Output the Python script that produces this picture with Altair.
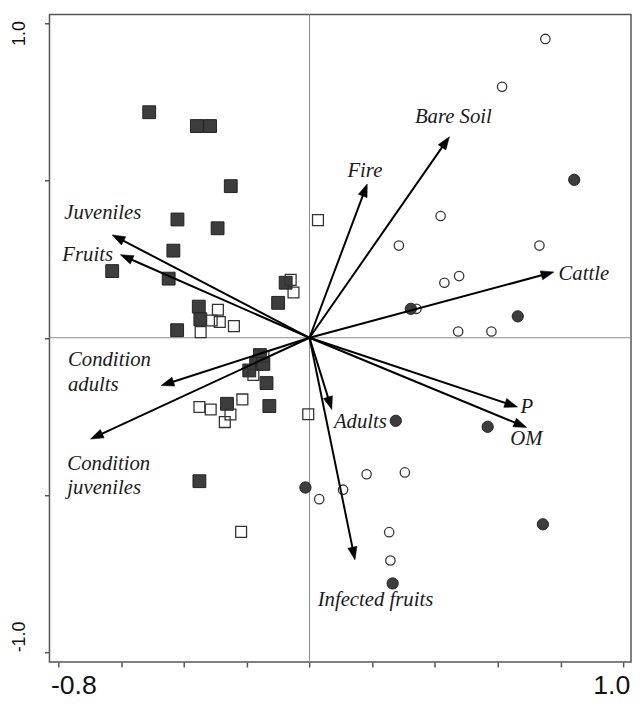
import math
import altair as alt
import pandas as pd

# ---- site scores (four groups) ----
fsq_x = [-0.511, -0.359, -0.317, -0.251, -0.421, -0.293, -0.434, -0.629, -0.449, -0.076, -0.100,
         -0.353, -0.348, -0.422, -0.158, -0.170, -0.147, -0.192, -0.137, -0.263, -0.128, -0.351]
fsq_y = [0.717, 0.673, 0.673, 0.482, 0.376, 0.348, 0.277, 0.212, 0.188, 0.175, 0.111,
         0.099, 0.059, 0.024, -0.055, -0.083, -0.083, -0.104, -0.144, -0.210, -0.217, -0.456]

osq_x = [0.027, -0.060, -0.051, -0.292, -0.312, -0.286, -0.241, -0.347, -0.147, -0.179, -0.214,
         -0.351, -0.315, -0.252, -0.270, -0.004, -0.218]
osq_y = [0.374, 0.184, 0.144, 0.089, 0.055, 0.050, 0.037, 0.018, -0.060, -0.118, -0.196,
         -0.220, -0.228, -0.244, -0.268, -0.243, -0.617]

fci_x = [0.844, 0.323, 0.664, 0.275, 0.568, 0.744, 0.265, -0.013]
fci_y = [0.502, 0.092, 0.068, -0.264, -0.283, -0.593, -0.781, -0.476]

oci_x = [0.752, 0.614, 0.418, 0.285, 0.733, 0.477, 0.430, 0.341, 0.474, 0.580, 0.031, 0.107,
         0.182, 0.304, 0.254, 0.258]
oci_y = [0.950, 0.798, 0.387, 0.293, 0.293, 0.196, 0.175, 0.092, 0.020, 0.020, -0.513, -0.483,
         -0.434, -0.428, -0.618, -0.708]

# ---- variable arrows ----
var_names = ["Juveniles", "Fruits", "Fire", "Bare Soil", "Cattle", "P", "OM", "Adults",
             "Infected fruits", "Condition\nadults", "Condition\njuveniles"]
var_x = [-0.629, -0.603, 0.184, 0.446, 0.779, 0.663, 0.692, 0.071, 0.145, -0.473, -0.698]
var_y = [0.327, 0.264, 0.489, 0.639, 0.209, -0.220, -0.285, -0.228, -0.706, -0.152, -0.322]
lab_x = [-0.782, -0.788, 0.121, 0.336, 0.794, 0.673, 0.640, 0.078, 0.026, -0.770, -0.772]
lab_y = [0.396, 0.262, 0.529, 0.700, 0.203, -0.220, -0.322, -0.267, -0.834, -0.071, -0.400]

x_ticks = [-0.8, -0.6, -0.4, -0.2, 0.0, 0.2, 0.4, 0.6, 0.8, 1.0]
y_ticks = [-1.0, -0.5, 0.0, 0.5, 1.0]

XDOM = [-0.829, 1.025]
YDOM = [-1.031, 1.028]
W, H = 589, 656
SX = W / (XDOM[1] - XDOM[0])
SY = H / (YDOM[1] - YDOM[0])

HEAD_LEN = 13.0
LINE_BACK = 7.0

rows = []
for n, x, y, lx, ly in zip(var_names, var_x, var_y, lab_x, lab_y):
    px, py = x * SX, y * SY
    L = math.hypot(px, py)
    ux, uy = px / L, py / L
    ang = math.degrees(math.atan2(px, py)) % 360
    rows.append(dict(name=n, x0=0.0, y0=0.0, x=x, y=y,
                     xe=(px - ux * LINE_BACK) / SX, ye=(py - uy * LINE_BACK) / SY,
                     ang=ang, lx=lx, ly=ly))
arrows = pd.DataFrame(rows)

xscale = alt.Scale(domain=XDOM, nice=False, zero=False)
yscale = alt.Scale(domain=YDOM, nice=False, zero=False)

xaxis = alt.Axis(
    title=None, values=x_ticks, grid=False, domain=False,
    labelExpr="datum.value < -0.7 ? '-0.8' : (datum.value > 0.9 ? '1.0' : '')",
    labelFont="Liberation Sans", labelFontSize=27, labelColor="#111",
    labelPadding=6, tickSize=5, tickColor="#555", tickWidth=1.5,
    labelOffset={"condition": {"test": "datum.value < 0", "value": 15}, "value": -12},
    labelFlush=False, labelOverlap=False,
)
yaxis = alt.Axis(
    title=None, values=y_ticks, grid=False, domain=False,
    labelExpr="datum.value < -0.9 ? '-1.0' : (datum.value > 0.9 ? '1.0' : '')",
    labelAngle=270, labelAlign="center", labelBaseline="alphabetic",
    labelFont="Liberation Sans", labelFontSize=18, labelColor="#111",
    labelPadding=20, tickSize=5, tickColor="#555", tickWidth=1.5,
    labelOffset={"condition": {"test": "datum.value > 0", "value": 10}, "value": -16},
    labelFlush=False, labelOverlap=False,
)


def X(f):
    return alt.X(f, type="quantitative", scale=xscale, axis=xaxis)


def Y(f):
    return alt.Y(f, type="quantitative", scale=yscale, axis=yaxis)


zero = pd.DataFrame({"z": [0.0]})
vline = alt.Chart(zero).mark_rule(color="#8a8a8a", strokeWidth=1).encode(x=X("z"))
hline = alt.Chart(zero).mark_rule(color="#8a8a8a", strokeWidth=1).encode(y=Y("z"))

fsq = alt.Chart(pd.DataFrame({"x": fsq_x, "y": fsq_y})).mark_point(
    shape="square", filled=True, size=169, fill="#3d3d3d", stroke="#222", strokeWidth=1, opacity=1
).encode(x=X("x"), y=Y("y"))
osq = alt.Chart(pd.DataFrame({"x": osq_x, "y": osq_y})).mark_point(
    shape="square", filled=False, size=121, stroke="#333", strokeWidth=1.3, opacity=1
).encode(x=X("x"), y=Y("y"))
fci = alt.Chart(pd.DataFrame({"x": fci_x, "y": fci_y})).mark_point(
    shape="circle", filled=True, size=130, fill="#3d3d3d", stroke="#222", strokeWidth=1, opacity=1
).encode(x=X("x"), y=Y("y"))
oci = alt.Chart(pd.DataFrame({"x": oci_x, "y": oci_y})).mark_point(
    shape="circle", filled=False, size=90, stroke="#333", strokeWidth=1.3, opacity=1
).encode(x=X("x"), y=Y("y"))

base = alt.Chart(arrows)
lines = base.mark_rule(color="#000", strokeWidth=2).encode(
    x=X("x0"), y=Y("y0"), x2="xe", y2="ye")
heads = base.mark_point(
    shape="M0,0L-0.36,1L0.36,1Z", filled=True, size=HEAD_LEN * HEAD_LEN * 4,
    fill="#000", stroke="#000", strokeWidth=0.5, opacity=1
).encode(x=X("x"), y=Y("y"), angle=alt.Angle("ang:Q", scale=None))
labels = base.mark_text(
    align="left", baseline="middle", font="Liberation Serif", fontStyle="italic",
    fontSize=21, color="#1a1a1a", lineBreak="\n", lineHeight=25
).encode(x=X("lx"), y=Y("ly"), text="name:N")

chart = alt.layer(vline, hline, fsq, osq, fci, oci, lines, heads, labels).properties(
    width=W, height=H,
    autosize=alt.AutoSizeParams(type="none"),
    padding={"left": 42, "top": 2, "right": 1, "bottom": 39},
    background="white",
).configure_view(stroke="#555", strokeWidth=1.5)

chart.save("out.html", embed_options={"renderer": "svg", "actions": False})
